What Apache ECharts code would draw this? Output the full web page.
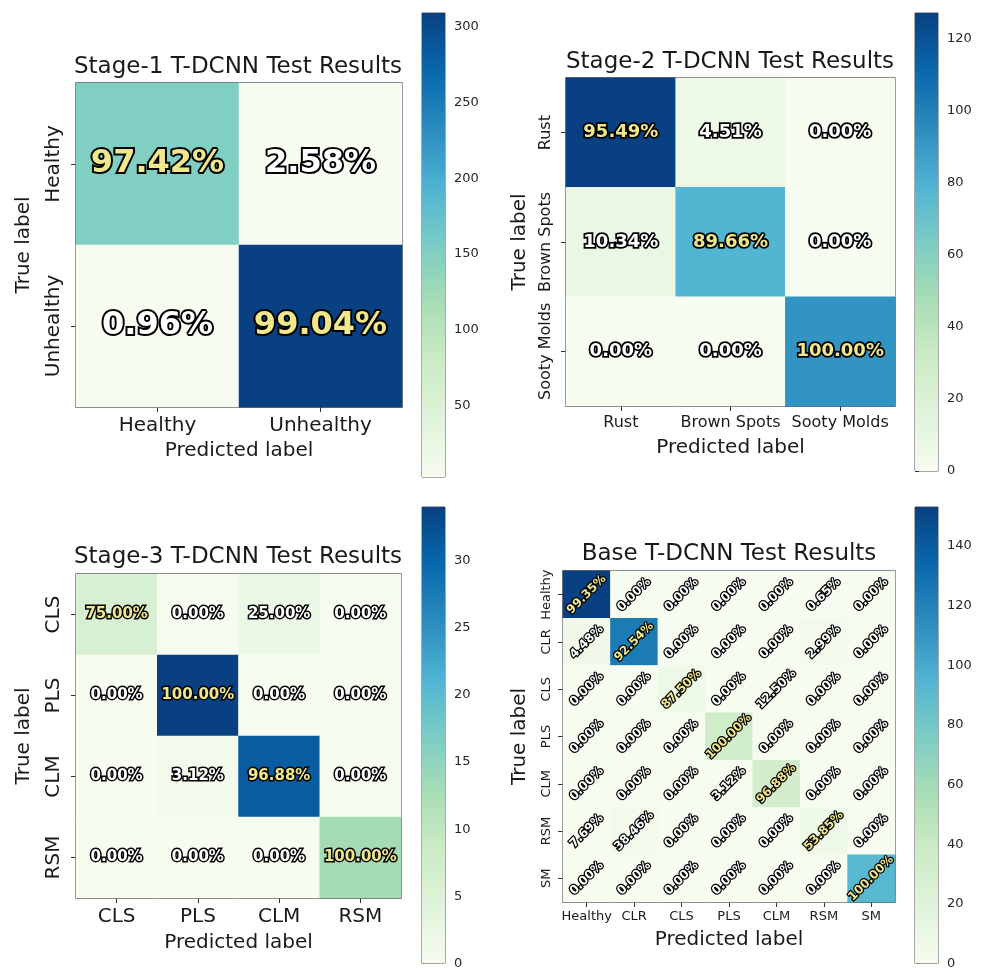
<!DOCTYPE html>
<html>
<head>
<meta charset="utf-8">
<script src="https://cdn.jsdelivr.net/npm/echarts@6/dist/echarts.min.js"></script>
<style>
  html, body { margin: 0; padding: 0; background: #ffffff; }
  #chart { width: 983px; height: 970px; }
</style>
</head>
<body>
<div id="chart"></div>
<script>
// ---- confusion-matrix counts (rows = true label, columns = predicted label) ----
const stage1Labels = ['Healthy', 'Unhealthy'];
const stage1Counts = [
  [151, 4],
  [3, 309]
];

const stage2Labels = ['Rust', 'Brown Spots', 'Sooty Molds'];
const stage2Counts = [
  [127, 6, 0],
  [9, 78, 0],
  [0, 0, 92]
];

const stage3Labels = ['CLS', 'PLS', 'CLM', 'RSM'];
const stage3Counts = [
  [6, 0, 2, 0],
  [0, 34, 0, 0],
  [0, 1, 31, 0],
  [0, 0, 0, 13]
];

const baseLabels = ['Healthy', 'CLR', 'CLS', 'PLS', 'CLM', 'RSM', 'SM'];
const baseCounts = [
  [153, 0, 0, 0, 0, 1, 0],
  [6, 124, 0, 0, 0, 4, 0],
  [0, 0, 7, 0, 1, 0, 0],
  [0, 0, 0, 34, 0, 0, 0],
  [0, 0, 0, 1, 31, 0, 0],
  [1, 5, 0, 0, 0, 7, 0],
  [0, 0, 0, 0, 0, 0, 92]
];

// colorbar tick labels
const stage1Ticks = [50, 100, 150, 200, 250, 300];
const stage2Ticks = [0, 20, 40, 60, 80, 100, 120];
const stage3Ticks = [0, 5, 10, 15, 20, 25, 30];
const baseTicks = [0, 20, 40, 60, 80, 100, 120, 140];

const titles = [
  'Stage-1 T-DCNN Test Results',
  'Stage-2 T-DCNN Test Results',
  'Stage-3 T-DCNN Test Results',
  'Base T-DCNN Test Results'
];

// GnBu colour ramp
const GNBU = ['#f7fcf0', '#e0f3db', '#ccebc5', '#a8ddb5', '#7bccc4',
              '#4eb3d3', '#2b8cbe', '#0868ac', '#084081'];
const DIAG_COLOR = '#f0e68c';
const FONT = 'DejaVu Sans';

// ---- panel geometry and text styling ----
const panels = [
  { labels: stage1Labels, counts: stage1Counts, ticks: stage1Ticks,
    grid: { left: 76, top: 83, width: 326, height: 324 },
    bar: { left: 422, top: 13, width: 23, height: 464 },
    title: { x: 238, y: 56 },
    axisFont: 20, yLabelMargin: 12, xLabelMargin: 9, xNameGap: 34, yNameGap: 42,
    cellFont: 32, cellBorder: 4, rotate: 0 },
  { labels: stage2Labels, counts: stage2Counts, ticks: stage2Ticks,
    grid: { left: 566, top: 78, width: 329, height: 328 },
    bar: { left: 915, top: 13, width: 23, height: 458 },
    title: { x: 730, y: 51 },
    axisFont: 16, yLabelMargin: 12, xLabelMargin: 9, xNameGap: 32, yNameGap: 36,
    cellFont: 18, cellBorder: 3.5, rotate: 0 },
  { labels: stage3Labels, counts: stage3Counts, ticks: stage3Ticks,
    grid: { left: 76, top: 574, width: 325, height: 324 },
    bar: { left: 422, top: 507, width: 23, height: 458 },
    title: { x: 238, y: 546 },
    axisFont: 20, yLabelMargin: 12, xLabelMargin: 9, xNameGap: 35, yNameGap: 42,
    cellFont: 15, cellBorder: 3, rotate: 0 },
  { labels: baseLabels, counts: baseCounts, ticks: baseTicks,
    grid: { left: 563, top: 571, width: 332, height: 331 },
    bar: { left: 915, top: 507, width: 23, height: 458 },
    title: { x: 729, y: 543 },
    axisFont: 13, yLabelMargin: 10, xLabelMargin: 8, xNameGap: 28, yNameGap: 33,
    cellFont: 12, cellBorder: 2.5, rotate: 45 }
];

// percentage with round-half-to-even at two decimals
function pctText(count, total) {
  const v = count / total * 10000;
  const f = Math.floor(v);
  let r;
  if (Math.abs(v - f - 0.5) < 1e-9) r = (f % 2 === 0) ? f : f + 1;
  else r = Math.round(v);
  return (r / 100).toFixed(2) + '%';
}

const option = {
  backgroundColor: '#ffffff',
  animation: false,
  textStyle: { fontFamily: FONT },
  title: [], grid: [], xAxis: [], yAxis: [], visualMap: [], series: []
};

const barSeries = [];

panels.forEach((p, i) => {
  const flat = p.counts.flat();
  const vmin = Math.min(...flat);
  const vmax = Math.max(...flat);
  const rowTotals = p.counts.map(r => r.reduce((a, b) => a + b, 0));
  const gMain = 2 * i, gBar = 2 * i + 1;

  option.title.push({
    text: titles[i], left: p.title.x, top: p.title.y, textAlign: 'center', padding: 0,
    textStyle: { fontFamily: FONT, fontSize: 23, fontWeight: 'normal', color: '#1a1a1a' }
  });

  option.grid.push(Object.assign({ show: true, borderColor: '#3a3a3a', borderWidth: 1.3,
                                   backgroundColor: 'transparent' }, p.grid));
  option.grid.push(Object.assign({ show: true, borderColor: '#555', borderWidth: 1,
                                   backgroundColor: 'transparent' }, p.bar));

  option.xAxis.push({
    type: 'category', gridIndex: gMain, data: p.labels, position: 'bottom',
    axisLine: { show: false },
    axisTick: { show: true, alignWithLabel: true, inside: false, length: 5,
                lineStyle: { color: '#333' } },
    axisLabel: { interval: 0, fontSize: p.axisFont, color: '#1a1a1a', margin: p.xLabelMargin,
                 fontFamily: FONT },
    splitLine: { show: false },
    name: 'Predicted label', nameLocation: 'middle', nameGap: p.xNameGap,
    nameTextStyle: { fontSize: 20, color: '#1a1a1a', fontFamily: FONT }
  });
  option.yAxis.push({
    type: 'category', gridIndex: gMain, data: p.labels, inverse: true,
    axisLine: { show: false },
    axisTick: { show: true, alignWithLabel: true, inside: false, length: 5,
                lineStyle: { color: '#333' } },
    axisLabel: { interval: 0, rotate: 90, fontSize: p.axisFont, color: '#1a1a1a',
                 margin: p.yLabelMargin, fontFamily: FONT },
    splitLine: { show: false },
    name: 'True label', nameLocation: 'middle', nameGap: p.yNameGap, nameRotate: 90,
    nameTextStyle: { fontSize: 20, color: '#1a1a1a', fontFamily: FONT }
  });

  // colorbar axes
  option.xAxis.push({ type: 'value', gridIndex: gBar, min: 0, max: 1, show: false });
  option.yAxis.push({
    type: 'value', gridIndex: gBar, min: vmin, max: vmax, position: 'right',
    axisLine: { show: false },
    splitLine: { show: false },
    axisTick: { show: true, inside: false, length: 4, lineStyle: { color: '#333' },
                customValues: p.ticks },
    axisLabel: { show: true, fontSize: 13, color: '#262626', margin: 9, fontFamily: FONT,
                 customValues: p.ticks }
  });

  const data = [];
  p.counts.forEach((row, r) => {
    row.forEach((c, col) => {
      data.push({ value: [col, r, c],
                  label: { color: r === col ? DIAG_COLOR : '#ffffff' } });
    });
  });

  option.series.push({
    type: 'heatmap', xAxisIndex: gMain, yAxisIndex: gMain, data: data,
    itemStyle: { borderWidth: 0 },
    emphasis: { disabled: true },
    label: {
      show: true, fontFamily: FONT, fontWeight: 'bold', fontSize: p.cellFont,
      rotate: p.rotate, textBorderColor: '#000000', textBorderWidth: p.cellBorder,
      formatter: prm => pctText(prm.value[2], rowTotals[prm.value[1]])
    }
  });

  option.visualMap.push({
    type: 'continuous', show: false, seriesIndex: i, dimension: 2,
    min: vmin, max: vmax, inRange: { color: GNBU }
  });

  barSeries.push({
    type: 'custom', xAxisIndex: gBar, yAxisIndex: gBar, silent: true,
    data: [[0, vmin, 1, vmax]],
    renderItem: (params, api) => {
      const a = api.coord([api.value(0), api.value(1)]);
      const b = api.coord([api.value(2), api.value(3)]);
      return {
        type: 'rect',
        shape: { x: a[0], y: b[1], width: b[0] - a[0], height: a[1] - b[1] },
        style: {
          fill: new echarts.graphic.LinearGradient(0, 1, 0, 0,
            GNBU.map((c, j) => ({ offset: j / (GNBU.length - 1), color: c })))
        }
      };
    }
  });
});

option.series = option.series.concat(barSeries);

const chart = echarts.init(document.getElementById('chart'), null, { renderer: 'canvas' });
chart.setOption(option);
</script>
</body>
</html>
